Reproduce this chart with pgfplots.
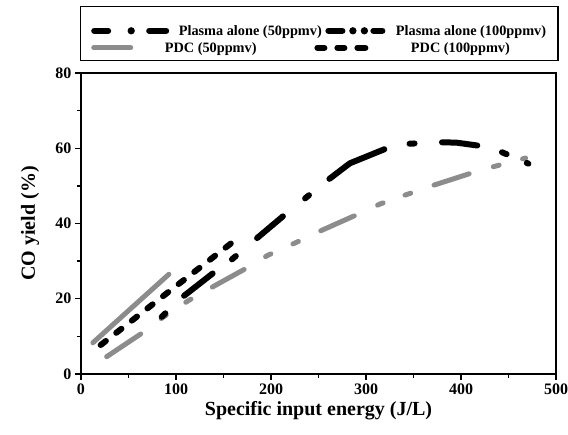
\documentclass[border=0pt]{standalone}
\usepackage{fontspec}
\setmainfont{Liberation Serif}
\usepackage{pgfplots}
\pgfplotsset{compat=1.18}
\definecolor{gr}{gray}{0.55}
\begin{document}
\begin{tikzpicture}
\begin{axis}[
  scale only axis, width=475pt, height=301pt,
  xmin=0, xmax=500, ymin=0, ymax=80,
  xtick={0,100,...,500}, ytick={0,20,...,80},
  minor x tick num=1, minor y tick num=1,
  tick pos=left, tick align=outside,
  axis line style={line width=1.6pt},
  major tick length=6pt, minor tick length=4pt,
  every tick/.style={black, line width=1.4pt},
  /pgf/number format/assume math mode=true,
  tick label style={font=\fontsize{16}{18}\selectfont\bfseries},
  xlabel={Specific input energy (J/L)},
  ylabel={CO yield (\%)},
  label style={font=\fontsize{20}{24}\selectfont\bfseries},
  xlabel style={at={(axis description cs:0.5,0)}, anchor=base, yshift=-42pt},
  ylabel style={at={(axis description cs:0,0.5)}, anchor=center, rotate=0, yshift=51pt},
  legend columns=2,
  legend cell align=left,
  legend style={at={(rel axis cs:0,1)}, anchor=south west, xshift=-1pt, yshift=12pt,
    draw=black, line width=1.2pt, inner xsep=10pt, inner ysep=2pt,
    row sep=5pt, column sep=0pt,
    font=\fontsize{14.3}{16}\selectfont\bfseries,
    nodes={inner sep=0pt, text height=10.5pt, text depth=1.5pt}},
]
% Plasma alone (100ppmv): dash-dot-dot (appears gray in the scan)
\addplot[forget plot, gr, line width=5pt, line cap=round, line join=round,
  dash pattern=on 40.9pt off 25.7pt on 6pt off 23.5pt on 6pt off 24.6pt on 36.3pt off 25pt on 6pt off 24.2pt on 6pt off 24.8pt on 36.6pt off 25.7pt on 6pt off 23.2pt on 6pt off 24.7pt on 36.9pt off 25.2pt on 6pt off 24.3pt on 6pt off 200pt]
  coordinates {(27,4.6) (65,11) (87,15.2) (113,19.5) (136,22.8) (174,28.1) (197,31.6) (226,34.9) (250,37.8) (290,42.3) (315,45.2) (344,47.8) (369,50) (411,53.4) (437,55.3) (468,57.4)};
% PDC (50ppmv): gray solid
\addplot[forget plot, gr, line width=5pt, line cap=round]
  coordinates {(12.5,8.3) (52,17.3) (92.5,26.5)};
% PDC (100ppmv): black dashed
\addplot[forget plot, black, line width=6pt, line cap=round,
  dash pattern=on 6.6pt off 13.2pt]
  coordinates {(20.7,7.7) (90,21.4) (160.4,35.2)};
% Plasma alone (50ppmv): dash-dot
\addplot[forget plot, black, line width=6pt, line cap=round, line join=round,
  dash pattern=on 5pt off 25.7pt on 36.2pt off 24pt on 5pt off 27.9pt on 33.7pt off 28.6pt on 5pt off 26.2pt on 62.9pt off 25.8pt on 5pt off 27.5pt on 35.5pt off 25.6pt on 5pt off 22pt on 12pt off 200pt]
  coordinates {(85,15.2) (104,19.9) (139,26.8) (159,30.5) (181,35.2) (213,42) (236,46.7) (257,51) (283,56) (320,59.8) (346,61.2) (374.4,61.6) (395,61.5) (418,60.7) (443.5,58.9) (471,55.9)};
% legend
\addlegendimage{legend image code/.code={
  \draw[black, line width=6pt, line cap=round] (3pt,0pt) -- (17pt,0pt);
  \fill[black] (40pt,0pt) circle (3pt);
  \draw[black, line width=6pt, line cap=round] (58pt,0pt) -- (75pt,0pt);
  \path (0pt,22pt) (87pt,0pt);}}
\addlegendentry{\makebox[135pt][l]{Plasma alone (50ppmv)}}
\addlegendimage{legend image code/.code={
  \draw[black, line width=6pt, line cap=round] (14pt,0pt) -- (28pt,0pt);
  \fill[black] (38.5pt,0pt) circle (3pt);
  \fill[black] (50pt,0pt) circle (3pt);
  \draw[black, line width=6pt, line cap=round] (59pt,0pt) -- (68pt,0pt);
  \path (0pt,22pt) (81pt,0pt);}}
\addlegendentry{\makebox[152pt][l]{Plasma alone (100ppmv)}}
\addlegendimage{legend image code/.code={
  \draw[gr, line width=5pt, line cap=round] (2.5pt,0pt) -- (39.5pt,0pt);
  \path (0pt,-10pt) (87pt,0pt);}}
\addlegendentry{\makebox[135pt][l]{\hspace*{-14pt}PDC (50ppmv)}}
\addlegendimage{legend image code/.code={
  \draw[black, line width=6pt, line cap=round] (3pt,0pt) -- (10pt,0pt);
  \draw[black, line width=6pt, line cap=round] (23pt,0pt) -- (30pt,0pt);
  \draw[black, line width=6pt, line cap=round] (43pt,0pt) -- (51pt,0pt);
  \path (0pt,-10pt) (81pt,0pt);}}
\addlegendentry{\makebox[152pt][l]{\hspace*{15pt}PDC (100ppmv)}}
\end{axis}
\pgfresetboundingbox
\path (current axis.south west) ++(-81pt,-61pt) rectangle ++(568pt,435pt);
\end{tikzpicture}
\end{document}
